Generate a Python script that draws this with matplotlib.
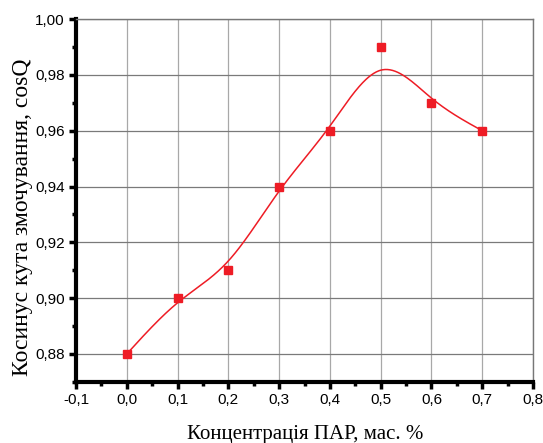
import numpy as np
import matplotlib.pyplot as plt
from matplotlib.ticker import MultipleLocator, FuncFormatter

conc = [0.0, 0.1, 0.2, 0.3, 0.4, 0.5, 0.6, 0.7]
cos_q = [0.88, 0.90, 0.91, 0.94, 0.96, 0.99, 0.97, 0.96]


def bspline(px, py, per_seg=60):
    # uniform cubic B-spline, ends extended by reflection so it starts/ends on the data
    p = np.column_stack([px, py]).astype(float)
    q = np.vstack([2 * p[0] - p[1], p, 2 * p[-1] - p[-2]])
    t = np.linspace(0, 1, per_seg)[:, None]
    b0 = (1 - t) ** 3 / 6
    b1 = (3 * t ** 3 - 6 * t ** 2 + 4) / 6
    b2 = (-3 * t ** 3 + 3 * t ** 2 + 3 * t + 1) / 6
    b3 = t ** 3 / 6
    segs = [b0 * q[i] + b1 * q[i + 1] + b2 * q[i + 2] + b3 * q[i + 3] for i in range(len(q) - 3)]
    out = np.vstack(segs)
    return out[:, 0], out[:, 1]


red = '#ee1c25'
fig = plt.figure(figsize=(5.43, 4.43), dpi=100)
ax = fig.add_axes([0.14, 0.138, 0.8416, 0.819])

sx, sy = bspline(conc, cos_q)
ax.plot(sx, sy, color=red, lw=1.1, zorder=3)
ax.plot(conc, cos_q, 's', color=red, ms=6, zorder=4)

ax.set_xlim(-0.1, 0.8)
ax.set_ylim(0.87, 1.0)
ax.xaxis.set_major_locator(MultipleLocator(0.1))
ax.xaxis.set_minor_locator(MultipleLocator(0.05))
ax.yaxis.set_major_locator(MultipleLocator(0.02))
ax.yaxis.set_minor_locator(MultipleLocator(0.01))
ax.xaxis.set_major_formatter(FuncFormatter(lambda v, p: f'{v:.1f}'.replace('.', ',').replace('-0,0', '0,0')))
ax.yaxis.set_major_formatter(FuncFormatter(lambda v, p: f'{v:.2f}'.replace('.', ',')))

# vertical gridlines a bit lighter than the horizontal ones
ax.xaxis.grid(True, which='major', color='#a8a8a8', lw=0.9)
ax.yaxis.grid(True, which='major', color='#7a7a7a', lw=0.9)
ax.set_axisbelow(True)
for s in ('left', 'bottom'):
    ax.spines[s].set_linewidth(3)
for s in ('top', 'right'):
    ax.spines[s].set_linewidth(1)
    ax.spines[s].set_color('#777777')

ax.tick_params(which='major', direction='out', length=5, width=2.5, labelsize=11, pad=3)
ax.tick_params(which='minor', direction='out', length=3, width=2.5)
for lab in ax.get_xticklabels() + ax.get_yticklabels():
    lab.set_fontfamily('Liberation Sans')

ax.set_xlabel('Концентрація ПАР, мас. %', family='Liberation Serif', fontsize=15)
ax.set_ylabel('Косинус кута змочування, cosQ', family='Liberation Serif', fontsize=17)
ax.xaxis.set_label_coords(0.501, -0.118)
ax.yaxis.set_label_coords(-0.095, 0.453)

fig.savefig('out.png', dpi=100)
